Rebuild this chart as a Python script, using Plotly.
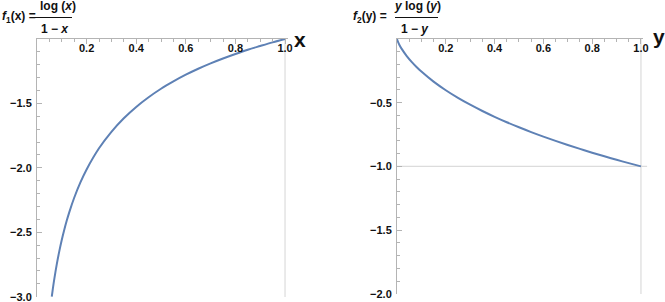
import plotly.graph_objects as go

# ---- data ----
x1_vals = [0.0596, 0.065, 0.07, 0.08, 0.09, 0.10, 0.11, 0.12, 0.13, 0.15, 0.175, 0.20, 0.25, 0.30,
           0.35, 0.40, 0.45, 0.50, 0.55, 0.60, 0.65, 0.70, 0.75, 0.80, 0.85, 0.90, 0.95, 1.0]
f1_vals = [-3.0, -2.923, -2.859, -2.745, -2.646, -2.558, -2.480, -2.409, -2.345, -2.232, -2.113,
           -2.012, -1.848, -1.720, -1.615, -1.527, -1.452, -1.386, -1.329, -1.277, -1.231, -1.189,
           -1.151, -1.116, -1.083, -1.054, -1.026, -1.0]

y2_vals = [0.0, 0.002, 0.005, 0.01, 0.02, 0.04, 0.06, 0.08, 0.10, 0.15, 0.20, 0.25, 0.30, 0.35,
           0.40, 0.45, 0.50, 0.55, 0.60, 0.65, 0.70, 0.75, 0.80, 0.85, 0.90, 0.95, 1.0]
f2_vals = [0.0, -0.0125, -0.0266, -0.0465, -0.0798, -0.1341, -0.1796, -0.2196, -0.2558, -0.3348,
           -0.4024, -0.4621, -0.516, -0.5653, -0.6109, -0.6533, -0.6931, -0.7307, -0.7662, -0.80,
           -0.8322, -0.863, -0.8926, -0.9209, -0.9482, -0.9746, -1.0]

x_ticks = [0.2, 0.4, 0.6, 0.8, 1.0]
x_ticklabels = ["0.2", "0.4", "0.6", "0.8", "1.0"]
y1_ticks = [-1.5, -2.0, -2.5, -3.0]
y1_ticklabels = ["\u22121.5", "\u22122.0", "\u22122.5", "\u22123.0"]
y2_ticks = [-0.5, -1.0, -1.5, -2.0]
y2_ticklabels = ["\u22120.5", "\u22121.0", "\u22121.5", "\u22122.0"]

# ---- layout helpers ----
W, H = 665, 302
def px(x): return x / W
def py(y): return 1 - y / H
def bold(labels): return ["<b>%s</b>" % t for t in labels]

CURVE = "#5E81B5"
AXC = "#b4b4b4"
GRID = "#dcdcdc"
FONT = "Liberation Sans"
TXT = "#111111"

fig = go.Figure()
fig.add_trace(go.Scatter(x=x1_vals, y=f1_vals, mode="lines", line=dict(color=CURVE, width=2, shape="spline"),
                         xaxis="x", yaxis="y", hoverinfo="skip"))
fig.add_trace(go.Scatter(x=y2_vals, y=f2_vals, mode="lines", line=dict(color=CURVE, width=2, shape="spline"),
                         xaxis="x2", yaxis="y2", hoverinfo="skip"))

tickfont = dict(family=FONT, size=11, color=TXT)

def xax(domain, anchor):
    return dict(domain=domain, anchor=anchor, range=[0, 1.01], side="top", showline=True,
                linecolor=AXC, linewidth=1, showgrid=False, zeroline=False,
                ticks="inside", ticklen=5, tickcolor=AXC, tickwidth=1,
                ticklabelposition="inside", ticklabeloverflow="allow",
                tickvals=x_ticks, ticktext=bold(x_ticklabels), tickfont=tickfont,
                minor=dict(dtick=0.05, tick0=0, ticks="inside", ticklen=3, tickcolor=AXC, showgrid=False),
                automargin=False, fixedrange=True)

def yax(domain, anchor, rng, tv, tt):
    return dict(domain=domain, anchor=anchor, range=rng, side="left", showline=True,
                linecolor=AXC, linewidth=1, showgrid=False, zeroline=False,
                ticks="inside", ticklen=5, tickcolor=AXC, tickwidth=1,
                tickvals=tv, ticktext=bold(tt), tickfont=tickfont, ticklabelstandoff=2,
                ticklabeloverflow="allow",
                minor=dict(dtick=0.1, tick0=0, ticks="inside", ticklen=3, tickcolor=AXC, showgrid=False),
                automargin=False, fixedrange=True)

fig.update_layout(
    width=W, height=H, margin=dict(l=0, r=0, t=0, b=0),
    paper_bgcolor="white", plot_bgcolor="white", showlegend=False,
    xaxis=xax([px(37), px(287.5)], "y"),
    yaxis=yax([1 - 297 / H, py(39)], "x", [-3.002, -1], y1_ticks, y1_ticklabels),
    xaxis2=xax([px(397), px(643.4)], "y2"),
    yaxis2=yax([1 - 294 / H, py(39)], "x2", [-2.002, 0], y2_ticks, y2_ticklabels),
)

shapes = [
    dict(type="line", xref="x", yref="y domain", x0=1, x1=1, y0=0, y1=1, line=dict(color=GRID, width=1.2), layer="below"),
    dict(type="line", xref="x2", yref="y2 domain", x0=1, x1=1, y0=0, y1=1, line=dict(color=GRID, width=1.2), layer="below"),
    dict(type="line", xref="x2 domain", yref="y2", x0=0, x1=1.015, y0=-1, y1=-1, line=dict(color=GRID, width=1.2), layer="below"),
    # fraction bars of the titles
    dict(type="line", xref="paper", yref="paper", x0=px(33), x1=px(72), y0=py(17.5), y1=py(17.5), line=dict(color=TXT, width=1)),
    dict(type="line", xref="paper", yref="paper", x0=px(395), x1=px(438), y0=py(17.5), y1=py(17.5), line=dict(color=TXT, width=1)),
]
fig.update_layout(shapes=shapes)

tf = dict(family=FONT, size=12, color=TXT)
ann = [
    dict(text="<b><i>f</i><sub>1</sub>(x) =</b>", x=px(0), y=py(17), xanchor="left", yanchor="middle"),
    dict(text="<b>log (<i>x</i>)</b>", x=px(58), y=py(6), xanchor="center", yanchor="middle"),
    dict(text="<b>1 \u2212 <i>x</i></b>", x=px(55), y=py(29), xanchor="center", yanchor="middle"),
    dict(text="<b><i>f</i><sub>2</sub>(y) =</b>", x=px(351), y=py(17), xanchor="left", yanchor="middle"),
    dict(text="<b><i>y</i> log (<i>y</i>)</b>", x=px(417), y=py(6), xanchor="center", yanchor="middle"),
    dict(text="<b>1 \u2212 <i>y</i></b>", x=px(415), y=py(29), xanchor="center", yanchor="middle"),
]
annotations = [dict(a, xref="paper", yref="paper", showarrow=False, font=tf) for a in ann]
annotations += [
    dict(text="<b>x</b>", x=px(300), y=py(39), xref="paper", yref="paper", showarrow=False,
         xanchor="center", yanchor="middle", font=dict(family=FONT, size=21, color=TXT)),
    dict(text="<b>y</b>", x=px(659), y=py(37), xref="paper", yref="paper", showarrow=False,
         xanchor="center", yanchor="middle", font=dict(family=FONT, size=21, color=TXT)),
]
fig.update_layout(annotations=annotations)

fig.write_html("out.html", config={"displayModeBar": False, "staticPlot": True},
               post_script="document.body.style.margin='0';document.body.style.padding='0';")
